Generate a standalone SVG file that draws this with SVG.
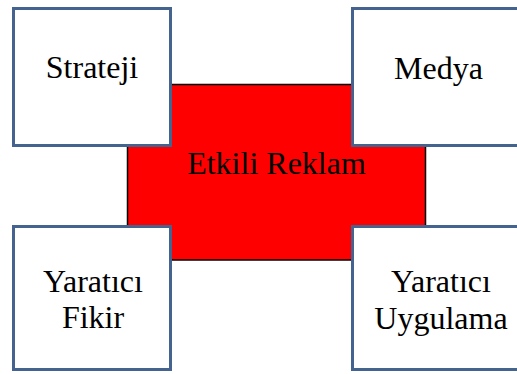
<svg xmlns="http://www.w3.org/2000/svg" width="517" height="374" viewBox="0 0 517 374">
<style>
.box{fill:#ffffff;stroke:#44648f;stroke-width:3}
.center{fill:#ff0000;stroke:#000000;stroke-width:1.5}
text{font-family:"Liberation Serif","Times New Roman",serif;font-size:32px;fill:#000000;text-anchor:middle}
</style>
<rect width="517" height="374" fill="#ffffff"/>
<g id="etkili-reklam">
<rect class="center" x="127.5" y="84.5" width="298" height="175.5"/>
<text x="276.5" y="174">Etkili Reklam</text>
</g>
<g id="strateji">
<rect class="box" x="13.5" y="8.5" width="157" height="137"/>
<text x="92" y="78">Strateji</text>
</g>
<g id="medya">
<rect class="box" x="352.5" y="8.5" width="175" height="137"/>
<text x="438.5" y="79">Medya</text>
</g>
<g id="yaratici-fikir">
<rect class="box" x="13.5" y="226.5" width="157" height="143"/>
<text x="93" y="292">Yaratıcı</text>
<text x="93" y="328">Fikir</text>
</g>
<g id="yaratici-uygulama">
<rect class="box" x="352.5" y="226.5" width="175" height="143"/>
<text x="441" y="292">Yaratıcı</text>
<text x="441" y="329">Uygulama</text>
</g>
<g id="connectors"></g>
</svg>
